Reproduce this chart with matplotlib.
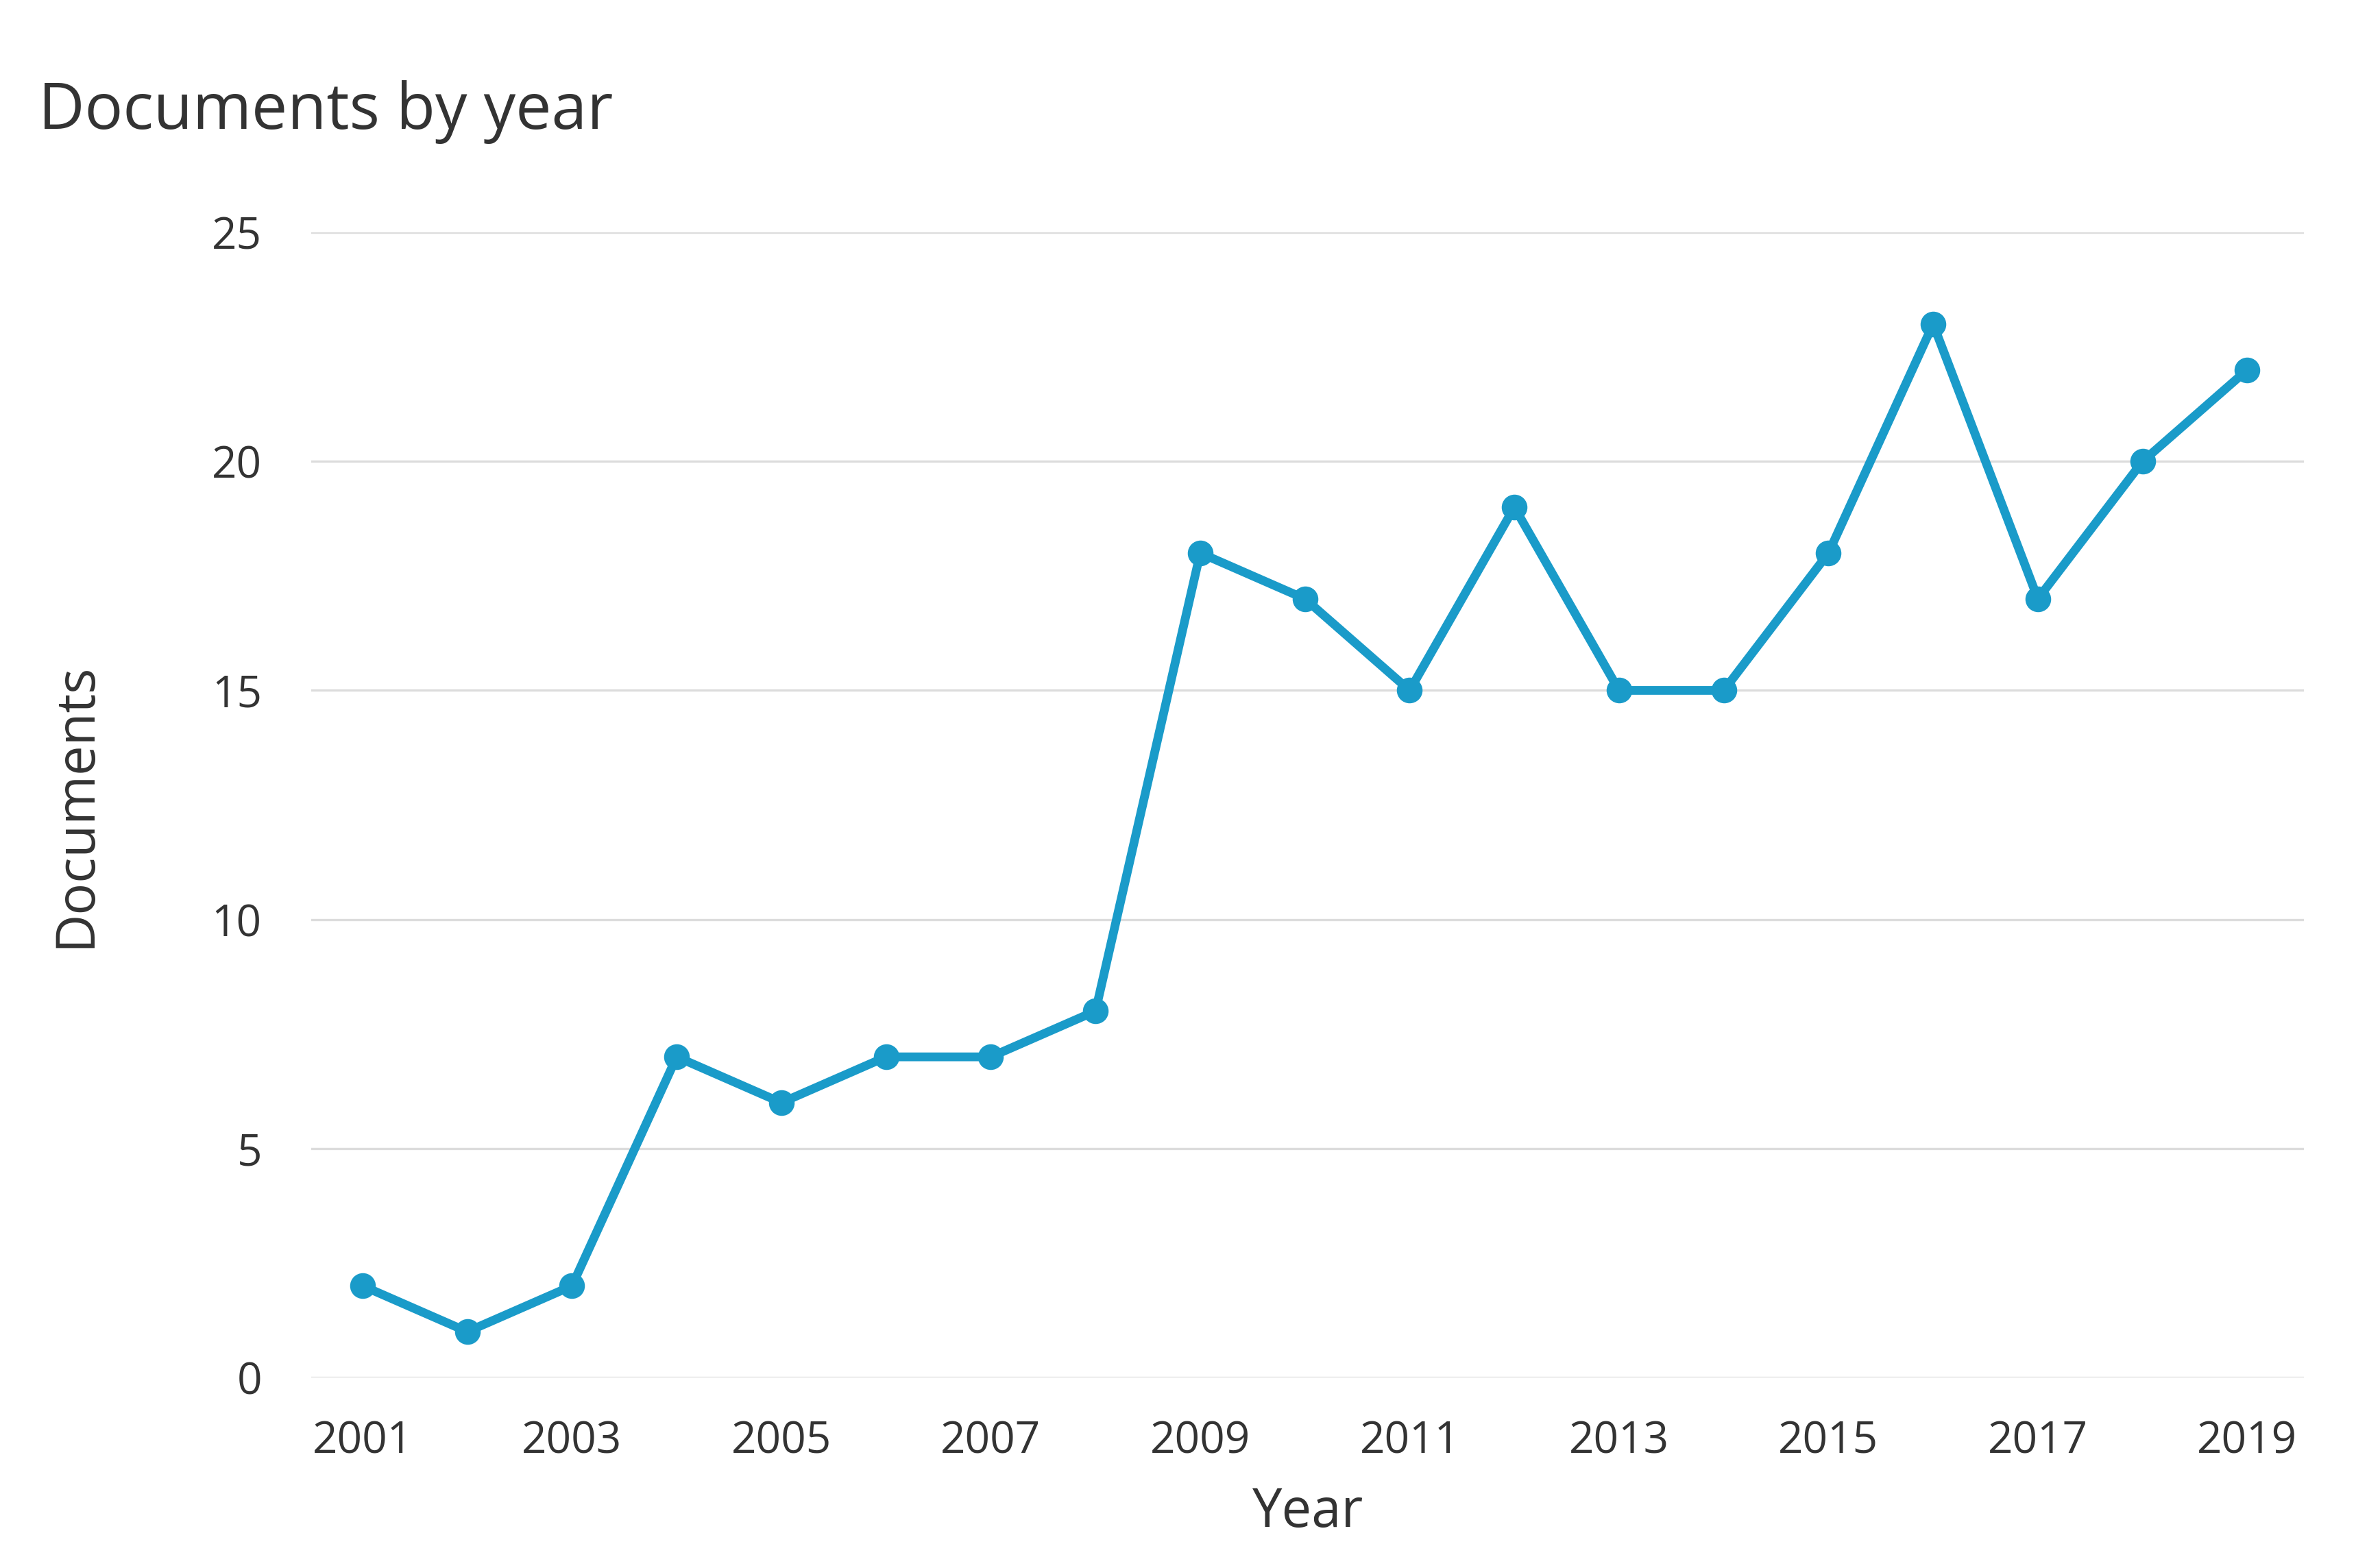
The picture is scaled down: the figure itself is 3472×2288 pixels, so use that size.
import matplotlib.pyplot as plt

years = list(range(2001, 2020))
documents = [2, 1, 2, 7, 6, 7, 7, 8, 18, 17, 15, 19, 15, 15, 18, 23, 17, 20, 22]
xticks = list(range(2001, 2020, 2))
yticks = [0, 5, 10, 15, 20, 25]

plt.rcParams['font.family'] = ['Open Sans', 'DejaVu Sans']
text_color = '#333333'
line_color = '#1a9bc9'

fig = plt.figure(figsize=(17.36, 11.44), dpi=200, facecolor='w')
ax = fig.add_axes([0.1308, 0.1215, 0.968 - 0.1308, 0.8518 - 0.1215])

ax.plot(years, documents, color=line_color, lw=4.6, marker='o',
        markersize=12.5, zorder=3, solid_joinstyle='round')

ax.set_xlim(2000.51, 2019.54)
ax.set_ylim(0, 25)
ax.set_xticks(xticks)
ax.set_yticks(yticks)
ax.grid(axis='y', color='#dcdcdc', lw=1.2)
ax.set_axisbelow(True)
for s in ax.spines.values():
    s.set_visible(False)
ax.tick_params(length=0, labelsize=23, colors=text_color)
ax.tick_params(axis='x', pad=22)
ax.tick_params(axis='y', pad=26)

ax.set_xlabel('Year', fontsize=28, color=text_color, labelpad=12)
ax.set_ylabel('Documents', fontsize=28, color=text_color, labelpad=57)
fig.text(0.016, 0.918, 'Documents by year', fontsize=33.5, color=text_color,
         ha='left', va='baseline')

fig.savefig('out.png', dpi=200)
